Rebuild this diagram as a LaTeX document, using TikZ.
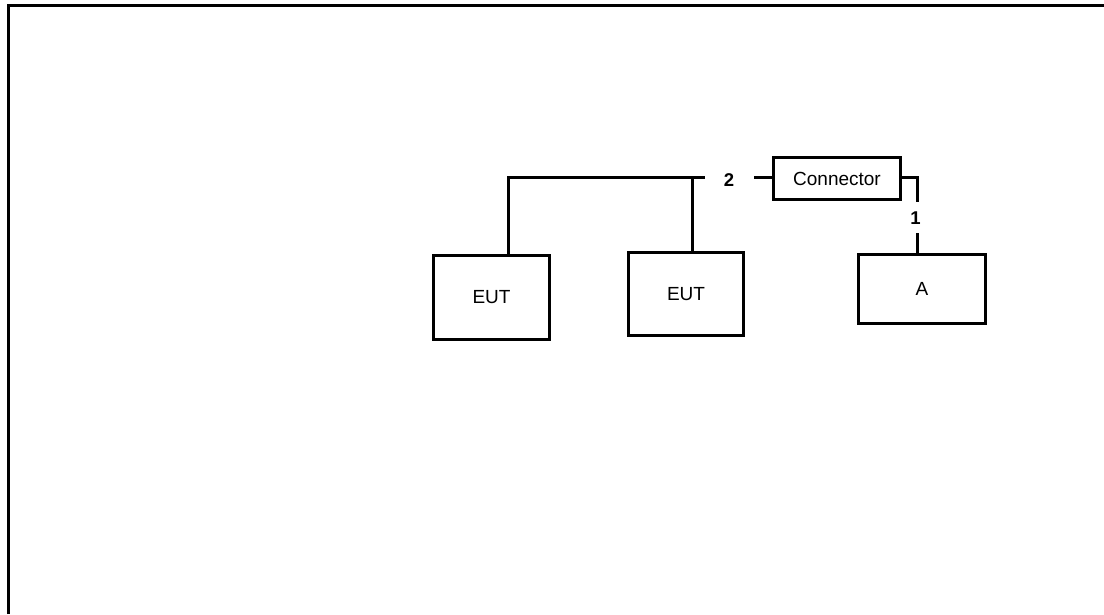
\documentclass[tikz,border=0pt]{standalone}
\usepackage{fontspec}
\setmainfont{Liberation Sans}
\begin{document}
\begin{tikzpicture}[x=1pt,y=-1pt,
  box/.style={draw,line width=3pt,minimum width=#1,inner sep=0pt,font=\fontsize{19}{21}\selectfont},
  wire/.style={line width=3pt},
  num/.style={inner sep=0pt,font=\fontsize{18.5}{20}\selectfont\bfseries}]
\useasboundingbox (0,0) rectangle (1104,614);
% outer frame
\draw[line width=3pt] (8.5,614) -- (8.5,5.5) -- (1104,5.5);
% boxes
\node[box=116pt,minimum height=84pt] (eut1) at (491.5,297.5) {EUT};
\node[box=115pt,minimum height=83pt] (eut2) at (686,294) {EUT};
\node[box=127pt,minimum height=69pt] (a) at (922,289) {A};
\node[box=127pt,minimum height=42pt] (conn) at (837,178.5) {Connector};
% labels
\node[num] (n2) at (729,180.5) {2};
\node[num] (n1) at (915.5,218.5) {1};
% free ends
\coordinate (busend) at (705,177);
\coordinate (c2) at (754,177);
\coordinate (c1top) at (917,202);
\coordinate (c1bot) at (917,233);
% wires
\draw[wire] (eut1.north -| 508,0) |- (busend);
\draw[wire] (eut2.north -| 692,0) -- (692,177);
\draw[wire] (c2) -- (c2 -| conn.west);
\draw[wire] (c2 -| conn.east) -| (c1top);
\draw[wire] (c1bot) -- (c1bot |- a.north);
\end{tikzpicture}
\end{document}
